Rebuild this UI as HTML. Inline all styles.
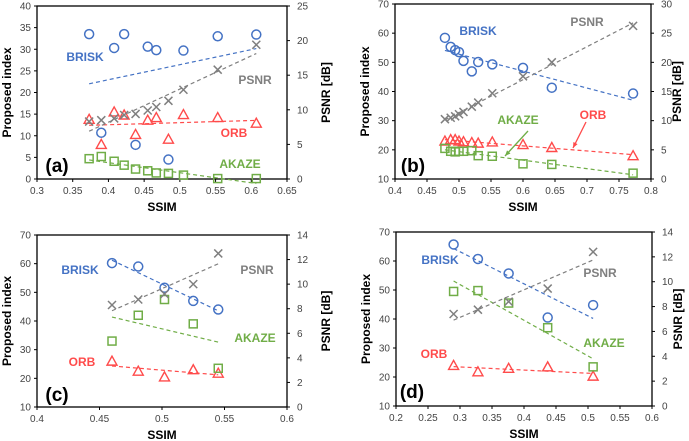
<!DOCTYPE html>
<html><head><meta charset="utf-8">
<style>
body{margin:0;background:#fff;}
svg{display:block;font-family:"Liberation Sans",sans-serif;}
</style></head>
<body>
<svg id="c" width="689" height="441" viewBox="0 0 689 441"></svg>
<script>
// Panel (a)
const ssimA = [0.373,0.39,0.408,0.422,0.438,0.455,0.467,0.484,0.505,0.553,0.607];
const briskA = [33.5,10.7,30.3,33.5,7.9,30.6,29.8,4.5,29.7,33,33.4];
const orbA = [13.8,8,15.5,14.8,10.3,13.6,14.2,9.2,14.9,14.2,12.9];
const akazeA = [4.7,5.2,4.1,3.2,2.3,1.9,1.4,1.3,0.9,0.1,0.1];
const psnrA = [8.3,8.5,8.75,9.25,9.4,9.9,10.4,11.3,12.9,15.8,19.4];
// Panel (b)
const ssimB = [0.478,0.487,0.494,0.5,0.507,0.52,0.53,0.552,0.6,0.645,0.772];
const briskB = [58.4,55.3,54.2,53.5,50.5,46.9,50.1,49.3,48.1,41.3,39.3];
const orbB = [23,23.5,23.5,23,22.8,22.5,22.3,22.7,21.8,20.8,18];
const akazeB = [20.5,19.5,19.3,19.5,19.5,19.7,18,17.8,15.2,15,12];
const psnrB = [10.25,10.5,10.75,11.1,11.5,12.4,13.1,14.7,17.6,20,26.25];
// Panel (c)
const ssimC = [0.46,0.481,0.502,0.525,0.545];
const briskC = [60.2,59,51.6,47,44];
const orbC = [26,22.5,20.5,23,21.8];
const akazeC = [33,42,47.5,39,23.5];
const psnrC = [8.3,8.75,9.2,10,12.5];
// Panel (d)
const ssimD = [0.29,0.328,0.376,0.437,0.508];
const briskD = [65.7,60.7,55.7,40.5,44.8];
const orbD = [24,21.8,23,23.5,20.3];
const akazeD = [49.5,49.8,45.5,37,23.5];
const psnrD = [7.4,7.75,8.4,9.45,12.4];
// Axis ticks
const xTicksA = [0.3,0.35,0.4,0.45,0.5,0.55,0.6,0.65];
const yTicksA = [0,5,10,15,20,25,30,35,40];
const rTicksA = [0,5,10,15,20,25];
const xTicksB = [0.4,0.45,0.5,0.55,0.6,0.65,0.7,0.75,0.8];
const yTicksB = [10,20,30,40,50,60,70];
const rTicksB = [0,5,10,15,20,25,30];
const xTicksC = [0.4,0.45,0.5,0.55,0.6];
const xTicksD = [0.2,0.25,0.3,0.35,0.4,0.45,0.5,0.55,0.6];
const yTicksCD = [10,20,30,40,50,60,70];
const rTicksCD = [0,2,4,6,8,10,12,14];

const NS="http://www.w3.org/2000/svg";
const svg=document.getElementById('c');
const BLUE="#4472C4",RED="#FF4B4B",GREEN="#70AD47",GREY="#7F7F7F";
function mk(tag,attrs,parent){const e=document.createElementNS(NS,tag);for(const k in attrs)e.setAttribute(k,attrs[k]);(parent||svg).appendChild(e);return e;}
function txt(s,x,y,attrs,parent){const t=mk('text',Object.assign({x:x,y:y},attrs),parent);t.textContent=s;return t;}
function reg(xs,ys){const n=xs.length;let mx=0,my=0;for(let i=0;i<n;i++){mx+=xs[i];my+=ys[i];}mx/=n;my/=n;let sxy=0,sxx=0;for(let i=0;i<n;i++){sxy+=(xs[i]-mx)*(ys[i]-my);sxx+=(xs[i]-mx)**2;}const b=sxy/sxx;return x=>my+b*(x-mx);}

function panel(p){
  const g=mk('g',{});
  
  
  const X=v=>p.x0+(v-p.xt[0])/(p.xt[p.xt.length-1]-p.xt[0])*(p.x1-p.x0);
  const Y=v=>p.y1-(v-p.yt[0])/(p.yt[p.yt.length-1]-p.yt[0])*(p.y1-p.y0);
  const R=v=>p.y1-(v-p.rt[0])/(p.rt[p.rt.length-1]-p.rt[0])*(p.y1-p.y0);
  const fr=mk('rect',{x:p.x0,y:p.y0,width:p.x1-p.x0,height:p.y1-p.y0,fill:'none',stroke:'#000','stroke-width':1.3},g);
  
  p.xt.forEach(v=>{const t=txt(String(v),X(v),p.y1+15,{'font-size':10,'text-anchor':'middle',fill:'#444'},g);
    mk('line',{x1:X(v),x2:X(v),y1:p.y1,y2:p.y1+3,stroke:'#000'},g);});
  p.yt.forEach(v=>{const t=txt(String(v),p.x0-6,Y(v)+3.5,{'font-size':10,'text-anchor':'end',fill:'#444'},g);
    mk('line',{x1:p.x0-3,x2:p.x0,y1:Y(v),y2:Y(v),stroke:'#000'},g);});
  p.rt.forEach(v=>{const t=txt(String(v),p.x1+10,R(v)+3.5,{'font-size':10,'text-anchor':'start',fill:'#444'},g);
    mk('line',{x1:p.x1,x2:p.x1+3,y1:R(v),y2:R(v),stroke:'#000'},g);});
  let t=txt('SSIM',(p.x0+p.x1)/2,p.y1+32,{'font-size':12,'font-weight':'bold','text-anchor':'middle'},g);
  const cy=(p.y0+p.y1)/2;
  t=txt('Proposed index',p.x0-26,cy,{'font-size':12,'font-weight':'bold','text-anchor':'middle',transform:`rotate(-90 ${p.x0-26} ${cy})`},g);
  const rx=p.x1+p.rOff;
  t=txt('PSNR [dB]',rx,cy,{'font-size':12,'font-weight':'bold','text-anchor':'middle',transform:`rotate(-90 ${rx} ${cy})`},g);
  const series=[['brisk',p.brisk,BLUE,'o',Y],['orb',p.orb,RED,'t',Y],['akaze',p.akaze,GREEN,'s',Y],['psnr',p.psnr,GREY,'x',R]];
  series.forEach(([nm,ys,col,m,S])=>{
    const f=reg(p.xs,ys);const xa=Math.min(...p.xs),xb=Math.max(...p.xs);
    const ln=mk('line',{x1:X(xa),y1:S(f(xa)),x2:X(xb),y2:S(f(xb)),stroke:col,'stroke-width':1.2,'stroke-dasharray':'4,3'},g);
    
    ys.forEach((v,i)=>{const cx=X(p.xs[i]),cy2=S(v);let e;
      if(m==='o')e=mk('circle',{cx:cx,cy:cy2,r:4.5,fill:'none',stroke:col,'stroke-width':1.5},g);
      else if(m==='s')e=mk('rect',{x:cx-4,y:cy2-4,width:8,height:8,fill:'none',stroke:col,'stroke-width':1.5},g);
      else if(m==='t')e=mk('polygon',{points:`${cx},${cy2-5} ${cx-5},${cy2+4} ${cx+5},${cy2+4}`,fill:'none',stroke:col,'stroke-width':1.4},g);
      else e=mk('path',{d:`M${cx-4},${cy2-4}L${cx+4},${cy2+4}M${cx-4},${cy2+4}L${cx+4},${cy2-4}`,stroke:col,'stroke-width':1.5},g);
      });
  });
  p.labels.forEach(([s,x,y,col,sz])=>{const l=txt(s,x,y,{'font-size':sz||12,'font-weight':'bold','text-anchor':'middle',fill:col},g);
    });
  (p.arrows||[]).forEach(([x1,y1,x2,y2,col])=>{const a=mk('line',{x1:x1,y1:y1,x2:x2,y2:y2,stroke:col,'stroke-width':1.3},g);
    
    const ang=Math.atan2(y2-y1,x2-x1),L=6;
    mk('polygon',{points:`${x2},${y2} ${x2-L*Math.cos(ang-0.4)},${y2-L*Math.sin(ang-0.4)} ${x2-L*Math.cos(ang+0.4)},${y2-L*Math.sin(ang+0.4)}`,fill:col},g);});
}
panel({id:'a',x0:37,x1:287,y0:6,y1:179,rOff:43,xt:xTicksA,yt:yTicksA,rt:rTicksA,xs:ssimA,brisk:briskA,orb:orbA,akaze:akazeA,psnr:psnrA,
  labels:[['BRISK',85,61,BLUE],['PSNR',255,84,GREY],['ORB',234,137,RED],['AKAZE',240,168,GREEN],['(a)',57,172,'#000',19]]});
panel({id:'b',x0:395,x1:651,y0:4,y1:179,rOff:30,xt:xTicksB,yt:yTicksB,rt:rTicksB,xs:ssimB,brisk:briskB,orb:orbB,akaze:akazeB,psnr:psnrB,
  labels:[['BRISK',478,35,BLUE],['PSNR',587,26,GREY],['ORB',593,119,RED],['AKAZE',518,124,GREEN],['(b)',413,172,'#000',19]],
  arrows:[[528,131,505,156,GREEN],[586,122,573,148,RED]]});
panel({id:'c',x0:37,x1:287,y0:235,y1:407,rOff:43,xt:xTicksC,yt:yTicksCD,rt:rTicksCD,xs:ssimC,brisk:briskC,orb:orbC,akaze:akazeC,psnr:psnrC,
  labels:[['BRISK',80,274,BLUE],['PSNR',257,274,GREY],['AKAZE',255,342,GREEN],['ORB',82,366,RED],['(c)',57,401,'#000',19]]});
panel({id:'d',x0:396,x1:652,y0:232,y1:406,rOff:30,xt:xTicksD,yt:yTicksCD,rt:rTicksCD,xs:ssimD,brisk:briskD,orb:orbD,akaze:akazeD,psnr:psnrD,
  labels:[['BRISK',440,264,BLUE],['PSNR',600,277,GREY],['AKAZE',604,347,GREEN],['ORB',434,358,RED],['(d)',412,398,'#000',19]]});
</script>
</body></html>
